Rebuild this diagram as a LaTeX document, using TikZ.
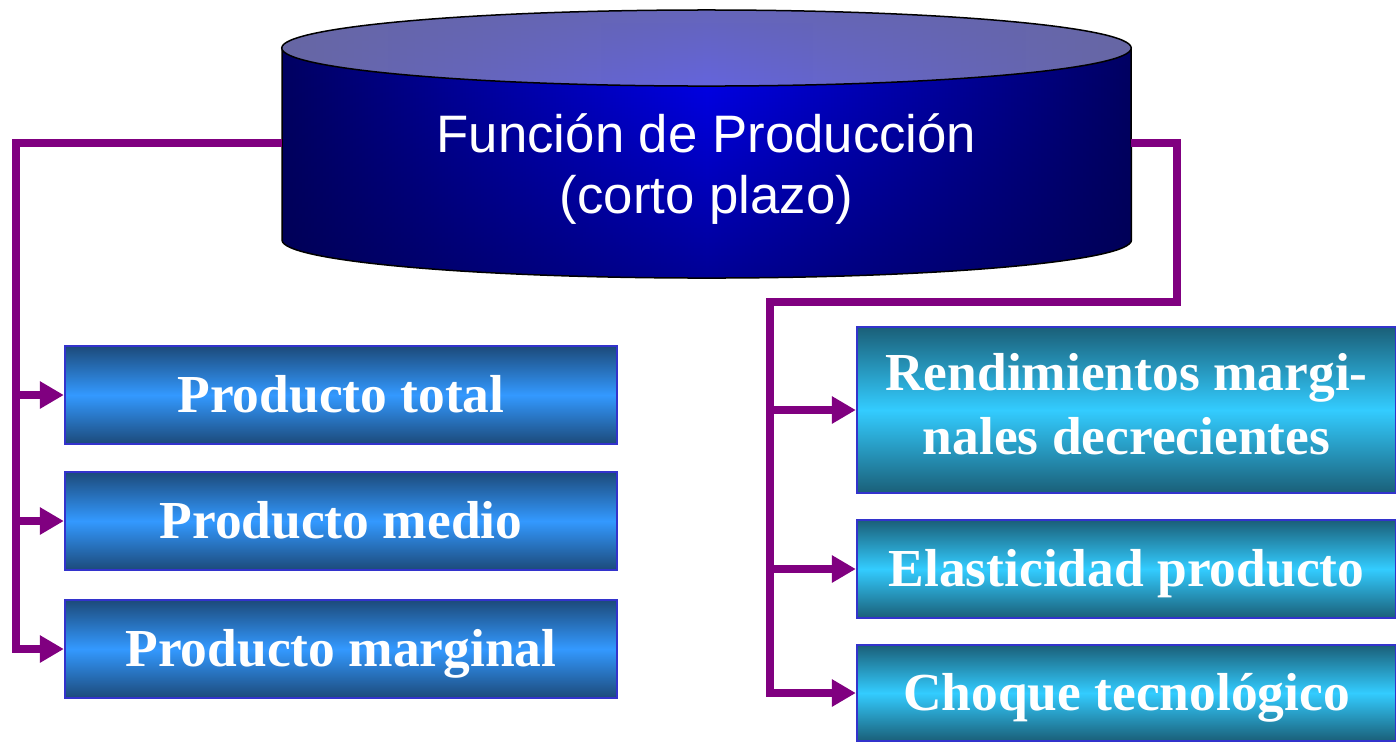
\documentclass[tikz,border=0pt]{standalone}
\usepackage{fontspec}
\setmainfont{Liberation Serif}
\newfontfamily\arialfont{Liberation Sans}
\usetikzlibrary{arrows.meta,fadings}
\definecolor{linea}{HTML}{800080}
\definecolor{borde}{HTML}{3333CC}
\definecolor{oscuroA}{HTML}{1C4A7A}
\definecolor{claroA}{HTML}{3399FF}
\definecolor{oscuroB}{HTML}{1A5F78}
\definecolor{claroB}{HTML}{33CCFF}
\definecolor{cuerpoO}{HTML}{000062}
\definecolor{cuerpoC}{HTML}{0000F0}
\definecolor{tapaO}{HTML}{6666A4}
\definecolor{tapaC}{HTML}{6464DC}
\tikzfading[name=haciaabajo, top color=transparent!100, bottom color=transparent!45]
\tikzfading[name=haciaarriba, top color=transparent!40, bottom color=transparent!100]
\tikzset{
  caja/.style={draw=borde, line width=0.02cm, text=white, align=center, inner sep=0pt,
    font=\fontsize{15.2}{18.2}\selectfont\bfseries},
  una/.style={text height=0.34cm, text depth=0pt},
  izq/.style={caja, una, top color=oscuroA, bottom color=oscuroA, middle color=claroA,
    minimum width=5.52cm, minimum height=0.98cm},
  der/.style={caja, top color=oscuroB, bottom color=oscuroB, middle color=claroB,
    minimum width=5.39cm},
  con/.style={draw=linea, line width=0.08cm},
  flecha/.style={con, -{Triangle[length=0.24cm,width=0.26cm]}}
}
\begin{document}
\begin{tikzpicture}[x=0.01cm,y=-0.01cm]
    \useasboundingbox (0,0) rectangle (1396,741);
    \def\rx{4.245cm}
    \def\ry{0.38cm}
    % cilindro
    \shade[left color=cuerpoO, right color=cuerpoO, middle color=cuerpoC]
      (282,48) -- (282,240) arc[start angle=180, end angle=360, x radius=\rx, y radius=\ry]
      -- (1131,48) -- cycle;
    \fill[black!70!blue, path fading=haciaabajo]
      (282,48) -- (282,240) arc[start angle=180, end angle=360, x radius=\rx, y radius=\ry]
      -- (1131,48) -- cycle;
    \draw[line width=0.015cm]
      (282,48) -- (282,240) arc[start angle=180, end angle=360, x radius=\rx, y radius=\ry]
      -- (1131,48);
    \shade[left color=tapaO, right color=tapaO, middle color=tapaC]
      (706.5,48) ellipse[x radius=\rx, y radius=\ry];
    \fill[tapaO, path fading=haciaarriba] (706.5,48) ellipse[x radius=\rx, y radius=\ry];
    \draw[line width=0.015cm] (706.5,48) ellipse[x radius=\rx, y radius=\ry];
    \node[text=white, align=center, font=\arialfont\fontsize{15}{17.6}\selectfont]
      (A0_0) at (706.5,169) {Función de Producción\\(corto plazo)};
    \coordinate (A0_l) at (282,143);
    \coordinate (A0_r) at (1131,143);
    % cajas
    \node[izq] (A1_0) at (341,395) {Producto total};
    \node[izq] (A2_0) at (341,521) {Producto medio};
    \node[izq] (A3_0) at (341,649) {Producto marginal};
    \node[der, minimum height=1.66cm, text depth=0.13cm] (A1_1) at (1126.5,410) {Rendimientos margi-\\nales decrecientes};
    \node[der, una, minimum height=0.98cm] (A2_1) at (1126.5,569) {Elasticidad producto};
    \node[der, una, minimum height=0.96cm] (A3_1) at (1126.5,693) {Choque tecnológico};
    % conectores
    \coordinate (L) at (16,143);
    \coordinate (R) at (1177,143);
    \coordinate (M) at (770,302);
    \draw[flecha] (A0_l) -- (L) |- (A3_0.west);
    \path (L |- A1_0.west) edge [flecha] (A1_0.west);
    \path (L |- A2_0.west) edge [flecha] (A2_0.west);
    \draw[flecha] (A0_r) -- (R) |- (M) |- (A3_1.west);
    \path (M |- A1_1.west) edge [flecha] (A1_1.west);
    \path (M |- A2_1.west) edge [flecha] (A2_1.west);
  \end{tikzpicture}
\end{document}
